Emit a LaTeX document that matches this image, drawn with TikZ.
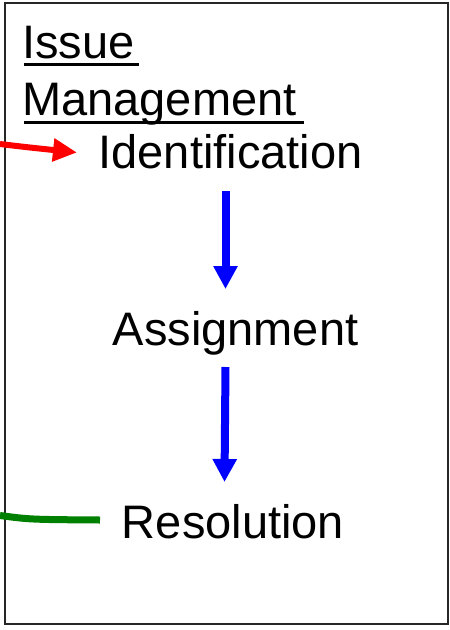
\documentclass[tikz,border=0pt]{standalone}
\usepackage{fontspec}
\setmainfont{Liberation Sans}
\usetikzlibrary{arrows.meta}
\begin{document}
\begin{tikzpicture}[x=1pt,y=-1pt,
  label/.style={inner sep=0pt,font=\fontsize{47}{56}\selectfont},
  uline/.style={line width=3pt},
  flow/.style={draw={rgb,255:red,0;green,0;blue,255},line width=8pt,
    -{Triangle[length=23pt,width=23pt]}},
  inflow/.style={draw={rgb,255:red,255;green,0;blue,0},line width=6pt,
    -{Triangle[length=24pt,width=22pt]}},
  outflow/.style={draw={rgb,255:red,0;green,128;blue,0},line width=7pt}]
  \useasboundingbox (0,0) rectangle (450,630);
  % frame
  \draw[line width=2pt,black!85] (5,3) rectangle (448,623.5);
  % title
  \node[label,anchor=base west] (t1) at (22,58) {Issue};
  \node[label,anchor=base west] (t2) at (22,115) {Management};
  \draw[uline] (24,64) -- (139,64);
  \draw[uline] (24,122.5) -- (304,122.5);
  % steps
  \node[label,anchor=base] (id) at (230.5,168) {Identification};
  \node[label,anchor=base] (as) at (235.5,345) {Assignment};
  \node[label,anchor=base] (rs) at (233,538) {Resolution};
  % step arrows
  \coordinate (f1s) at (225.5,191);
  \coordinate (f1e) at (225.5,289);
  \coordinate (f2s) at (225.5,367);
  \coordinate (f2e) at (224.5,482);
  \draw[flow] (f1s) -- (f1e);
  \draw[flow] (f2s) -- (f2e);
  % incoming and outgoing links
  \coordinate (inS) at (0,144);
  \coordinate (inE) at (77,152.5);
  \draw[inflow] (inS) .. controls (25,147) .. (inE);
  \coordinate (outS) at (0,515.5);
  \coordinate (outE) at (100,520);
  \draw[outflow] (outS) .. controls (30,519.5) .. (outE);
\end{tikzpicture}
\end{document}
